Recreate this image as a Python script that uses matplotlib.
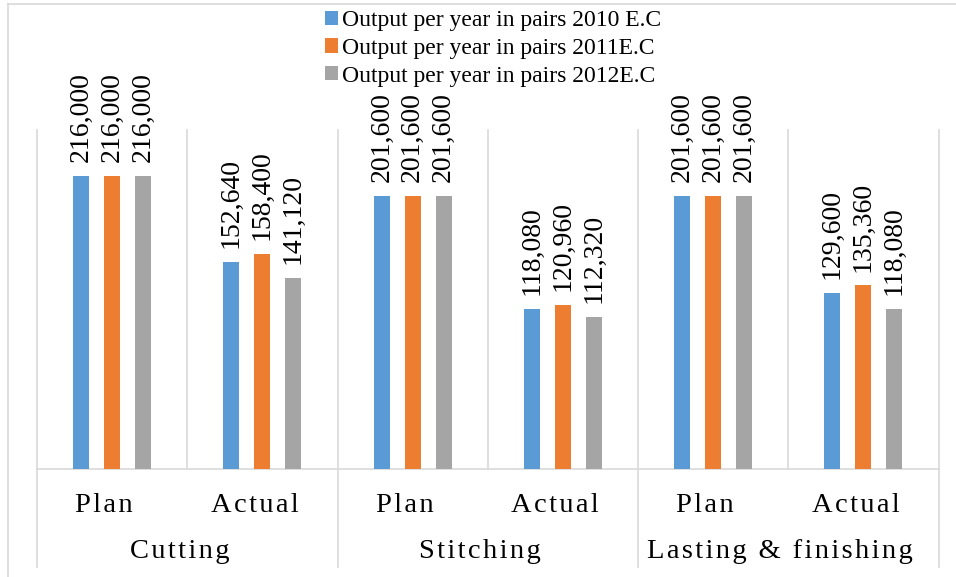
import numpy as np
import matplotlib.pyplot as plt
from matplotlib.lines import Line2D
from matplotlib.transforms import blended_transform_factory, offset_copy

# Output per year (pairs) for each department, planned vs actual
departments = ['Cutting', 'Stitching', 'Lasting & finishing']
kinds = ['Plan', 'Actual']
series = ['Output per year in pairs 2010 E.C',
          'Output per year in pairs 2011E.C',
          'Output per year in pairs 2012E.C']
out_2010 = [216000, 152640, 201600, 118080, 201600, 129600]
out_2011 = [216000, 158400, 201600, 120960, 201600, 135360]
out_2012 = [216000, 141120, 201600, 112320, 201600, 118080]
colors = ['#5B9BD5', '#ED7D31', '#A5A5A5']

serif = ['Liberation Serif', 'DejaVu Serif']
grid_c = '#d9d9d9'
W, H = 956, 577


def spaced(s):
    # Excel-like letter tracking using hair spaces
    return '\u200a'.join(s)


fig = plt.figure(figsize=(W / 100, H / 100), dpi=100)
ax = fig.add_axes([37 / W, (H - 469) / H, (938.5 - 37) / W, (469 - 130) / H])

x = np.arange(6)
offsets = [-0.206, 0.0, 0.206]
width = 0.106
for vals, off, c, name in zip([out_2010, out_2011, out_2012], offsets, colors, series):
    bars = ax.bar(x + off, vals, width, color=c, label=name, zorder=3)
    for b, v in zip(bars, vals):
        ax.annotate(f'{v:,}', (b.get_x() + b.get_width() / 2, v),
                    xytext=(0, 10), textcoords='offset points',
                    rotation=90, ha='center', va='bottom',
                    fontsize=20, family=serif, annotation_clip=False)

ax.set_xlim(-0.5, 5.5)
ax.set_ylim(0, 250000)
for s in ['top', 'right', 'left']:
    ax.spines[s].set_visible(False)
ax.spines['bottom'].set_color(grid_c)
ax.spines['bottom'].set_linewidth(1.2)
ax.set_xticks([])
ax.set_yticks([])

# separators between categories
trans = blended_transform_factory(ax.transData, ax.transAxes)
low = -(567 - 469) / (469 - 130)
for i, xs in enumerate(np.arange(-0.5, 6.0, 1.0)):
    y0 = low if i % 2 == 0 else 0
    ax.add_line(Line2D([xs, xs], [y0, 1], transform=trans, color=grid_c,
                       lw=1.2, clip_on=False, zorder=1))

# two-level category labels, nudged left a little
lab_trans = offset_copy(trans, fig=fig, x=-8, y=0, units='dots')
y_kind = (469 - 512) / (469 - 130)
y_dept = (469 - 558) / (469 - 130)
for i in x:
    ax.text(i, y_kind, spaced(kinds[i % 2]), transform=lab_trans, ha='center',
            va='baseline', fontsize=20.5, family=serif)
for j, d in enumerate(departments):
    ax.text(2 * j + 0.5, y_dept, spaced(d), transform=lab_trans, ha='center',
            va='baseline', fontsize=20.5, family=serif)

fig.legend(loc='upper center', bbox_to_anchor=(493 / W, 1 - 10 / H),
           frameon=False, prop={'family': serif, 'size': 17},
           handlelength=0.55, handleheight=0.55, handletextpad=0.15,
           labelspacing=0.29, borderpad=0, borderaxespad=0)

# chart border
fig.add_artist(Line2D([8 / W, 8 / W], [0, 1 - 4 / H], color=grid_c, lw=1.2))
fig.add_artist(Line2D([8 / W, 1], [1 - 4 / H, 1 - 4 / H], color=grid_c, lw=1.2))

fig.savefig('out.png', dpi=100)
